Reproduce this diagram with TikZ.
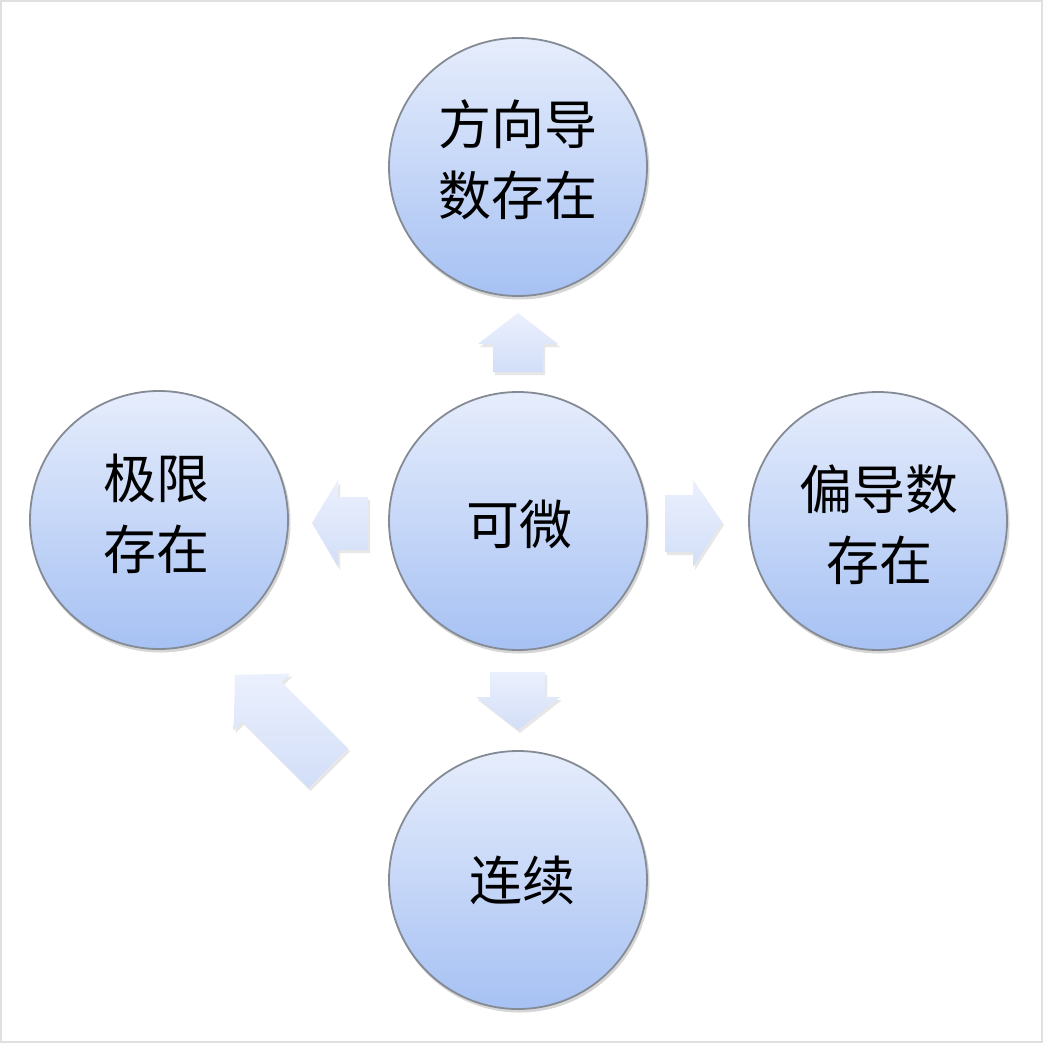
\documentclass[tikz,border=0pt]{standalone}
\usepackage{fontspec}
\newfontfamily\cjk{Noto Sans CJK SC}
\usetikzlibrary{shadings}
\definecolor{circtop}{HTML}{E6EDFC}
\definecolor{circbot}{HTML}{A6C1F3}
\definecolor{circedge}{HTML}{858B95}
\definecolor{arrtop}{HTML}{EBF0FD}
\definecolor{arrbot}{HTML}{D2DEF8}
\begin{document}
\begin{tikzpicture}[x=1pt,y=-1pt,
  bubble/.style={circle, minimum size=258pt, inner sep=0pt, draw=circedge, line width=1.8pt,
    top color=circtop, bottom color=circbot},
  label/.style={font=\cjk\fontsize{53}{71}\selectfont, align=center, text=black},
  bshadow/.style={fill=black!35, opacity=0.45},
  blockarrow/.style={top color=arrtop, bottom color=arrbot, draw=none},
  arrshadow/.style={fill=black!30, opacity=0.3}]
\useasboundingbox (0,0) rectangle (1043,1043);
\fill[white] (0,0) rectangle (1043,1043);
\draw[black!12, line width=1.2pt] (1,1) rectangle (1042,1042);

% circle shadows
\foreach \cx/\cy in {518/167, 159/520, 518/521, 878/521, 518/880}
  \fill[bshadow] (\cx+1.5,\cy+2.5) circle (130pt);

% circles
\node[bubble] (top) at (518,167) {};
\node[bubble] (left) at (159,520) {};
\node[bubble] (mid) at (518,521) {};
\node[bubble] (right) at (878,521) {};
\node[bubble] (bot) at (518,880) {};

% labels
\node[label] (ttop) at (518,160) {方向导\\数存在};
\node[label] (tleft) at (156,514) {极限\\存在};
\node[label] (tmid) at (519,524) {可微};
\node[label] (tright) at (879,525) {偏导数\\存在};
\node[label] (tbot) at (522,880) {连续};

% block arrows: shadows
\begin{scope}[shift={(2,3)}]
\path[arrshadow] (518,313) -- (558,344) -- (543,344) -- (543,372) -- (493,372) -- (493,344) -- (478,344) -- cycle;
\path[arrshadow] (312,523) -- (338,480) -- (338,497) -- (368,497) -- (368,550) -- (338,550) -- (338,567) -- cycle;
\path[arrshadow] (722,522) -- (693,480) -- (693,495) -- (665,495) -- (665,552) -- (693,552) -- (693,567) -- cycle;
\path[arrshadow] (518,730) -- (560,697) -- (545,697) -- (545,672) -- (490,672) -- (490,697) -- (476,697) -- cycle;
\path[arrshadow] (235,675) -- (290.2,673.6) -- (281.7,682.1) -- (348.1,748.5) -- (308.5,788.1) -- (242.1,721.7) -- (233.6,730.2) -- cycle;
\end{scope}

% block arrows
\path[blockarrow] (518,313) -- (558,344) -- (543,344) -- (543,372) -- (493,372) -- (493,344) -- (478,344) -- cycle;
\path[blockarrow] (312,523) -- (338,480) -- (338,497) -- (368,497) -- (368,550) -- (338,550) -- (338,567) -- cycle;
\path[blockarrow] (722,522) -- (693,480) -- (693,495) -- (665,495) -- (665,552) -- (693,552) -- (693,567) -- cycle;
\path[blockarrow] (518,730) -- (560,697) -- (545,697) -- (545,672) -- (490,672) -- (490,697) -- (476,697) -- cycle;
\path[blockarrow] (235,675) -- (290.2,673.6) -- (281.7,682.1) -- (348.1,748.5) -- (308.5,788.1) -- (242.1,721.7) -- (233.6,730.2) -- cycle;
\end{tikzpicture}
\end{document}
